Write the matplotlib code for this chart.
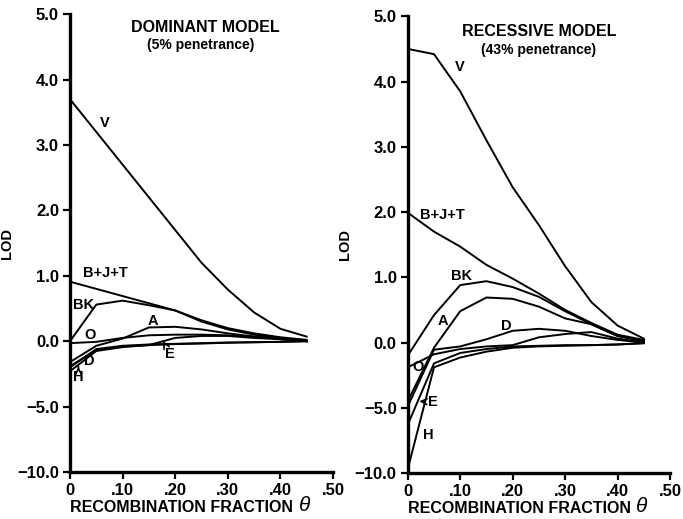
import matplotlib
matplotlib.use('Agg')
import matplotlib.pyplot as plt
import numpy as np

plt.rcParams['font.family'] = ['Liberation Sans', 'DejaVu Sans']
plt.rcParams['font.weight'] = 'bold'

# recombination fractions
theta = [0.0, 0.05, 0.10, 0.15, 0.20, 0.25, 0.30, 0.35, 0.40, 0.45]

# dominant model (5% penetrance)
dom_V   = [3.70, 3.20, 2.70, 2.20, 1.70, 1.20, 0.79, 0.44, 0.19, 0.07]
dom_BJT = [0.91, 0.80, 0.69, 0.58, 0.47, 0.32, 0.20, 0.12, 0.06, 0.02]
dom_BK  = [0.00, 0.56, 0.62, 0.55, 0.47, 0.30, 0.18, 0.10, 0.05, 0.00]
dom_A   = [-1.6, -0.35, 0.04, 0.21, 0.22, 0.18, 0.12, 0.07, 0.03, 0.00]
dom_O   = [-0.15, -0.05, 0.05, 0.09, 0.10, 0.10, 0.09, 0.07, 0.04, 0.00]
dom_E   = [-1.9, -0.70, -0.40, -0.30, 0.05, 0.08, 0.08, 0.05, 0.03, 0.00]
dom_D   = [-2.0, -0.60, -0.35, -0.25, -0.20, -0.15, -0.10, -0.08, -0.05, 0.00]
dom_H   = [-2.3, -0.75, -0.45, -0.30, -0.22, -0.18, -0.12, -0.08, -0.05, 0.00]

# recessive model (43% penetrance)
rec_V   = [4.50, 4.42, 3.85, 3.10, 2.38, 1.80, 1.17, 0.62, 0.26, 0.06]
rec_BJT = [1.99, 1.70, 1.47, 1.19, 0.98, 0.75, 0.50, 0.30, 0.12, 0.04]
rec_BK  = [-1.0, 0.42, 0.88, 0.94, 0.85, 0.70, 0.48, 0.28, 0.10, 0.03]
rec_A   = [-4.5, -0.40, 0.48, 0.69, 0.67, 0.55, 0.37, 0.28, 0.10, 0.02]
rec_D   = [-4.9, -0.55, -0.30, 0.05, 0.18, 0.21, 0.18, 0.10, 0.04, 0.00]
rec_O   = [-1.9, -0.90, -0.50, -0.30, -0.20, 0.08, 0.13, 0.16, 0.06, 0.00]
rec_E   = [-6.3, -1.60, -0.80, -0.50, -0.30, -0.25, -0.20, -0.20, -0.15, -0.05]
rec_H   = [-9.7, -1.90, -1.15, -0.70, -0.40, -0.30, -0.25, -0.20, -0.15, -0.05]

yticks = [-10, -5, 0, 1, 2, 3, 4, 5]
yticklabels = ['\u221210.0', '\u22125.0', '0.0', '1.0', '2.0', '3.0', '4.0', '5.0']
xticks = [0, 0.1, 0.2, 0.3, 0.4, 0.5]
xticklabels = ['0', '.10', '.20', '.30', '.40', '.50']


# negative LOD compressed 5x
def fwd(y):
    y = np.asarray(y, dtype=float)
    return np.where(y >= 0, y, y / 5.0)


def inv(y):
    y = np.asarray(y, dtype=float)
    return np.where(y >= 0, y, y * 5.0)


fig = plt.figure(figsize=(6.83, 5.19), dpi=100)
ax1 = fig.add_axes([0.1025, 0.0906, 0.385, 0.882])
ax2 = fig.add_axes([0.597, 0.0886, 0.384, 0.880])

for ax in (ax1, ax2):
    ax.set_yscale('function', functions=(fwd, inv))
    ax.set_ylim(-10, 5)
    ax.set_xlim(0, 0.5)
    ax.set_yticks(yticks)
    ax.set_yticklabels(yticklabels, fontsize=12, fontweight='bold')
    ax.set_xticks(xticks)
    ax.set_xticklabels(xticklabels, fontsize=12, fontweight='bold')
    ax.minorticks_off()
    ax.spines['top'].set_visible(False)
    ax.spines['right'].set_visible(False)
    ax.spines['left'].set_linewidth(2.4)
    ax.spines['bottom'].set_linewidth(2.4)
    ax.tick_params(direction='out', length=5, width=1.6, pad=3)
    ax.set_ylabel('LOD', fontsize=10.5, fontweight='bold', labelpad=2)
    ax.text(0.0, -0.077, 'RECOMBINATION FRACTION', transform=ax.transAxes,
            fontsize=11.5, fontweight='bold', ha='left', va='center')
    ax.text(0.87, -0.073, '\u03b8', transform=ax.transAxes, fontsize=15,
            fontstyle='italic', fontweight='normal', ha='left', va='center')

lw = 1.4
for ys in [dom_V, dom_BJT, dom_BK, dom_A, dom_O, dom_E, dom_D, dom_H]:
    ax1.plot(theta, ys, color='black', lw=lw)
for ys in [rec_V, rec_BJT, rec_BK, rec_A, rec_D, rec_O, rec_E, rec_H]:
    ax2.plot(theta, ys, color='black', lw=lw)

lab = dict(fontsize=10.5, fontweight='bold', ha='center', va='center')
ax1.text(0.066, 3.34, 'V', **lab)
ax1.text(0.025, 1.04, 'B+J+T', fontsize=10.5, fontweight='bold', ha='left', va='center')
ax1.text(0.006, 0.55, 'BK', fontsize=10.5, fontweight='bold', ha='left', va='center')
ax1.text(0.038, 0.09, 'O', **lab)
ax1.text(0.158, 0.31, 'A', **lab)
ax1.text(0.036, -1.5, 'D', **lab)
ax1.annotate('E', xy=(0.177, 0.0), xytext=(0.19, -1.0), fontsize=10.5, fontweight='bold',
             ha='center', va='center',
             arrowprops=dict(arrowstyle='->', lw=1.2, color='black', shrinkA=6, shrinkB=0))
ax1.annotate('H', xy=(0.016, -1.95), xytext=(0.016, -2.7), fontsize=10.5, fontweight='bold',
             ha='center', va='center',
             arrowprops=dict(arrowstyle='->', lw=1.2, color='black', shrinkA=5, shrinkB=0))

ax2.text(0.099, 4.22, 'V', **lab)
ax2.text(0.023, 1.96, 'B+J+T', fontsize=10.5, fontweight='bold', ha='left', va='center')
ax2.text(0.102, 1.02, 'BK', **lab)
ax2.text(0.067, 0.33, 'A', **lab)
ax2.text(0.188, 0.25, 'D', **lab)
ax2.text(0.02, -1.86, 'O', **lab)
ax2.annotate('E', xy=(0.022, -4.5), xytext=(0.048, -4.56), fontsize=10.5, fontweight='bold',
             ha='center', va='center',
             arrowprops=dict(arrowstyle='->', lw=1.2, color='black', shrinkA=5, shrinkB=0))
ax2.text(0.039, -7.1, 'H', **lab)

fig.text(205 / 683, 1 - 27 / 519, 'DOMINANT MODEL', fontsize=11.5, fontweight='bold',
         ha='center', va='center')
fig.text(201 / 683, 1 - 45 / 519, '(5% penetrance)', fontsize=10, fontweight='bold',
         ha='center', va='center')
fig.text(539 / 683, 1 - 32 / 519, 'RECESSIVE MODEL', fontsize=11.5, fontweight='bold',
         ha='center', va='center')
fig.text(539 / 683, 1 - 50 / 519, '(43% penetrance)', fontsize=10, fontweight='bold',
         ha='center', va='center')

fig.savefig('out.png', dpi=100)
